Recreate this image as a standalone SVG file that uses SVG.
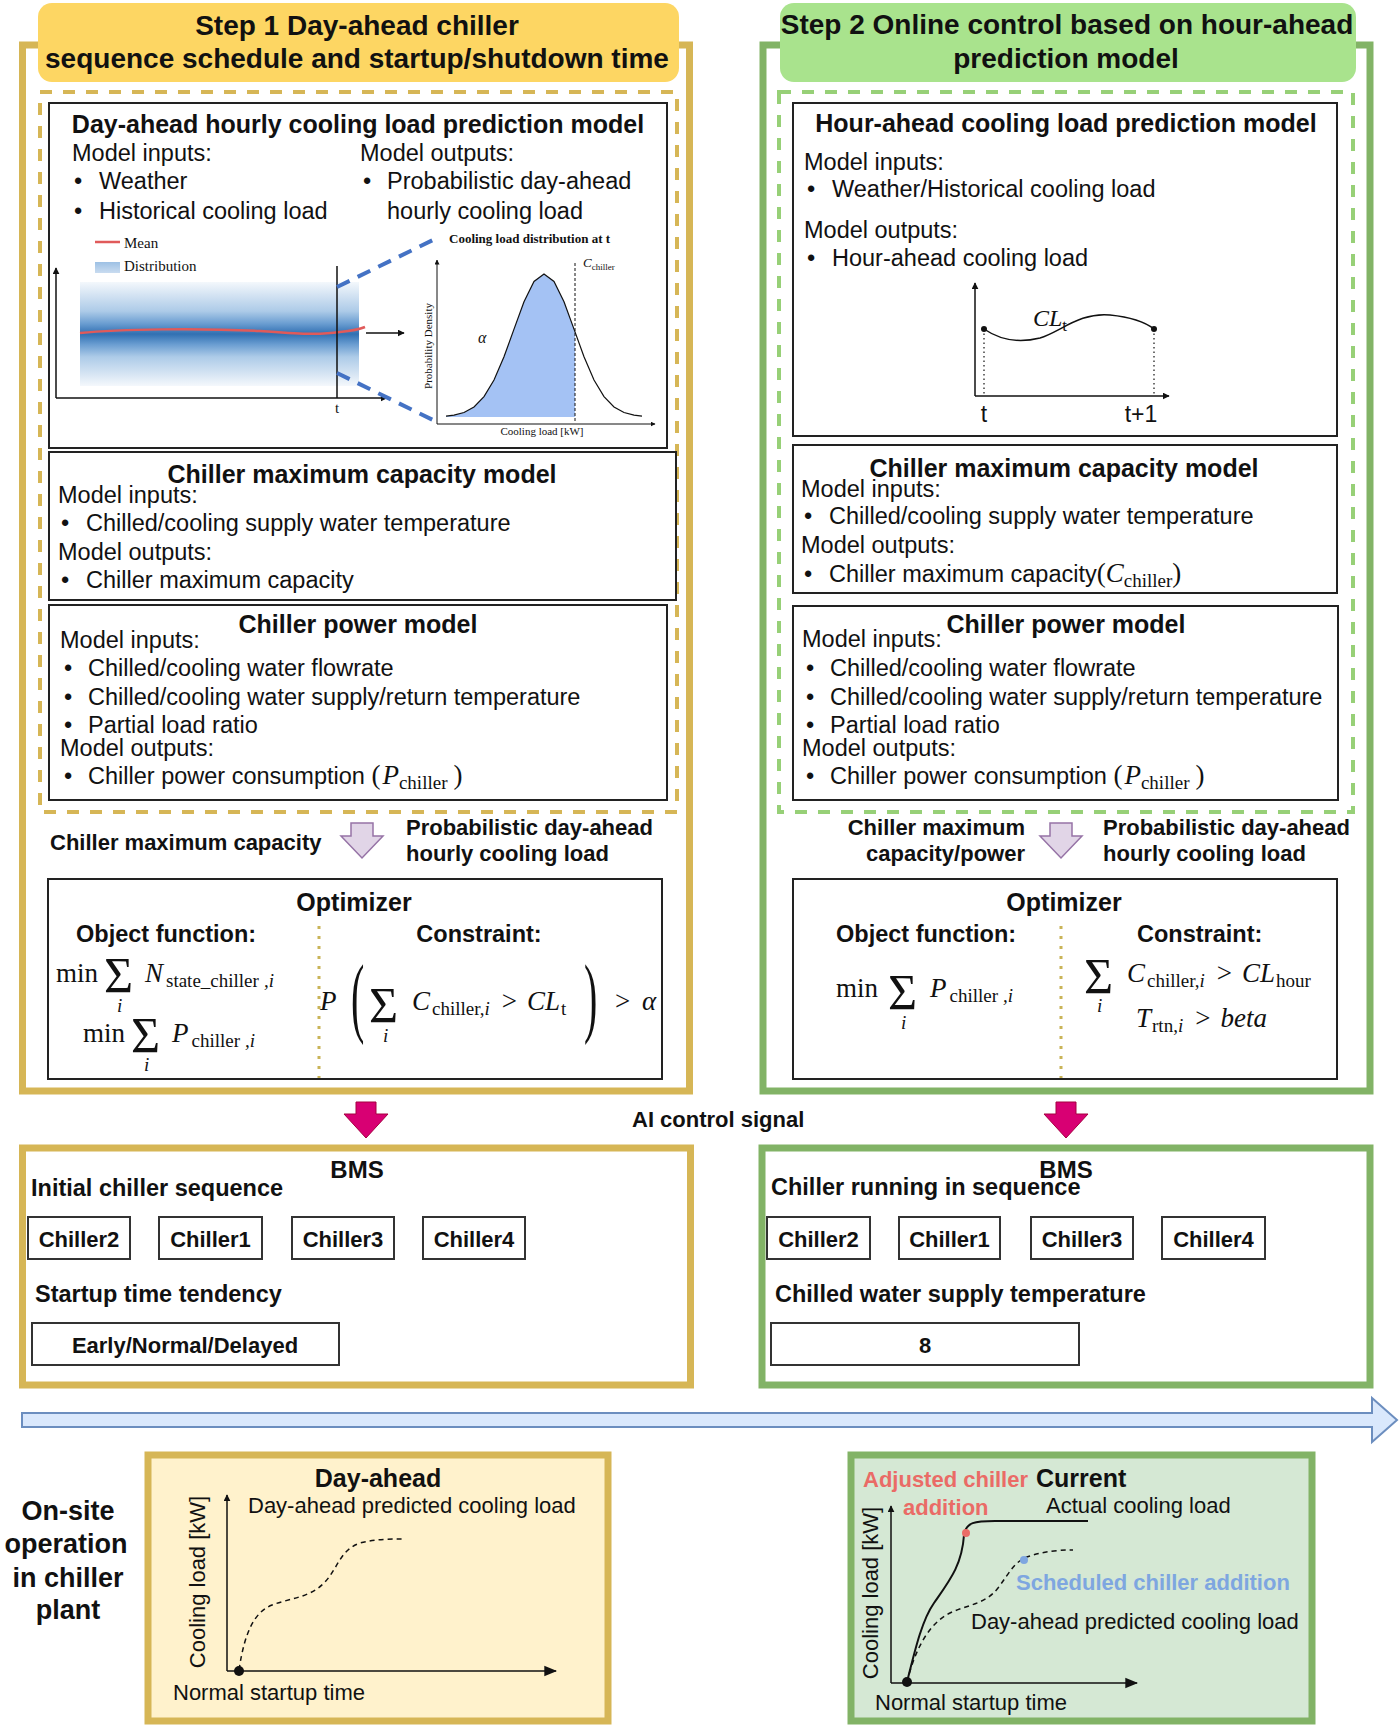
<svg xmlns="http://www.w3.org/2000/svg" width="1400" height="1726" viewBox="0 0 1400 1726">
<defs>
<style>
text{font-family:"Liberation Sans",Arial,sans-serif;fill:#111}
.hd{font-size:28px;font-weight:bold;text-anchor:middle}
.ti{font-size:25px;font-weight:bold;text-anchor:middle}
.tx{font-size:23.5px}
.lb{font-size:22px;font-weight:bold}
.lb2{font-size:23.5px;font-weight:bold}
.ax{font-size:22px}
.sf{font-family:"Liberation Serif","Times New Roman",serif}
.mi{font-family:"Liberation Serif","Times New Roman",serif;font-style:italic;font-size:27px}
.mr{font-family:"Liberation Serif","Times New Roman",serif;font-size:27px}
.sb{font-family:"Liberation Serif","Times New Roman",serif;font-size:19px}
.sbi{font-family:"Liberation Serif","Times New Roman",serif;font-size:19px;font-style:italic}
.sig{font-family:"Liberation Serif","Times New Roman",serif;font-size:50px}
.box{fill:#fff;stroke:#222;stroke-width:2}
.cb{fill:#fff;stroke:#333;stroke-width:2}
.gold{fill:none;stroke:#D6B656;stroke-width:7}
.green{fill:none;stroke:#82B366;stroke-width:7}
.dot{stroke:#C9B458;stroke-width:3;stroke-dasharray:3 7}
.purp{fill:#E1D5E7;stroke:#9673A6;stroke-width:1.5}
.mag{fill:#D80073;stroke:#A50040;stroke-width:1}
.red{fill:#EA6B66}
.blu{fill:#7EA6E0}
</style>
<linearGradient id="band" x1="0" y1="0" x2="0" y2="1">
<stop offset="0" stop-color="#F4F8FC"/>
<stop offset="0.12" stop-color="#D5E4F3"/>
<stop offset="0.28" stop-color="#ADCBE8"/>
<stop offset="0.4" stop-color="#6A9DD1"/>
<stop offset="0.5" stop-color="#3170B2"/>
<stop offset="0.6" stop-color="#6A9DD1"/>
<stop offset="0.72" stop-color="#ADCBE8"/>
<stop offset="0.88" stop-color="#D5E4F3"/>
<stop offset="1" stop-color="#F4F8FC"/>
</linearGradient>
<linearGradient id="leg" x1="0" y1="0" x2="0" y2="1">
<stop offset="0" stop-color="#9DC0E4"/>
<stop offset="1" stop-color="#C9DCF0"/>
</linearGradient>
<marker id="ah" viewBox="0 0 10 10" refX="9" refY="5" markerWidth="7" markerHeight="7" orient="auto" markerUnits="userSpaceOnUse">
<path d="M0,0 L10,5 L0,10 z" fill="#111"/>
</marker>
<marker id="ahs" viewBox="0 0 10 10" refX="9" refY="5" markerWidth="5" markerHeight="5" orient="auto" markerUnits="userSpaceOnUse">
<path d="M0,0 L10,5 L0,10 z" fill="#111"/>
</marker>
<marker id="ahb" viewBox="0 0 10 10" refX="9" refY="5" markerWidth="13" markerHeight="13" orient="auto" markerUnits="userSpaceOnUse">
<path d="M0,1 L10,5 L0,9 z" fill="#111"/>
</marker>
</defs>
<rect x="0" y="0" width="1400" height="1726" fill="#fff"/>

<!-- STEP 1 -->
<g id="step1-frame">
<rect class="gold" x="22.5" y="45" width="667" height="1046"/>
<rect x="38" y="3" width="641" height="79" rx="14" fill="#FDD663"/>
<text class="hd" x="357" y="35">Step 1 Day-ahead chiller</text>
<text class="hd" x="357" y="68">sequence schedule and startup/shutdown time</text>
<rect x="40" y="92" width="637" height="720" fill="none" stroke="#D6B656" stroke-width="4" stroke-dasharray="12 11"/>
</g>

<g id="dayahead-model">
<rect class="box" x="49" y="103" width="618" height="345"/>
<text class="ti" x="358" y="133">Day-ahead hourly cooling load prediction model</text>
<text class="tx" x="72" y="161">Model inputs:</text>
<text class="tx" x="74" y="189">•</text><text class="tx" x="99" y="189">Weather</text>
<text class="tx" x="74" y="219">•</text><text class="tx" x="99" y="219">Historical cooling load</text>
<text class="tx" x="360" y="161">Model outputs:</text>
<text class="tx" x="363" y="189">•</text><text class="tx" x="387" y="189">Probabilistic day-ahead</text>
<text class="tx" x="387" y="219">hourly cooling load</text>
<rect x="80" y="282" width="279" height="104" fill="url(#band)"/>
<path d="M80,333 C120,329 200,328 260,331 C300,334 320,335 340,332 C350,331 358,330 365,327" fill="none" stroke="#E05A5A" stroke-width="2.5"/>
<line x1="95" y1="242" x2="120" y2="242" stroke="#E05A5A" stroke-width="2.5"/>
<text class="sf" x="124" y="248" style="font-size:15px">Mean</text>
<rect x="95" y="262" width="25" height="11" fill="url(#leg)"/>
<text class="sf" x="124" y="271" style="font-size:15px">Distribution</text>
<line x1="56" y1="398" x2="56" y2="268" stroke="#111" stroke-width="1.5" marker-end="url(#ah)"/>
<line x1="56" y1="398" x2="387" y2="398" stroke="#111" stroke-width="1.5" marker-end="url(#ah)"/>
<line x1="337" y1="266" x2="337" y2="398" stroke="#111" stroke-width="1.5"/>
<text class="sf" x="337" y="413" style="font-size:15px" text-anchor="middle">t</text>
<line x1="366" y1="333" x2="404" y2="333" stroke="#111" stroke-width="1.5" marker-end="url(#ah)"/>
<line x1="337" y1="287" x2="437" y2="238" stroke="#4472C4" stroke-width="4" stroke-dasharray="14 9"/>
<line x1="337" y1="373" x2="437" y2="422" stroke="#4472C4" stroke-width="4" stroke-dasharray="14 9"/>
<polygon points="446,417 446,416.2 454,415.2 464,412.5 474,406.9 484,396.6 494,380 504,356.8 514,329.1 524,301.8 534,281.5 544,274 554,281.5 564,301.8 574,329.1 575,332 575,417" fill="#A4C2F4"/>
<polyline points="446,416.2 454,415.2 464,412.5 474,406.9 484,396.6 494,380 504,356.8 514,329.1 524,301.8 534,281.5 544,274 554,281.5 564,301.8 574,329.1 584,356.8 594,380 604,396.6 614,406.9 624,412.5 634,415.2 642,416.2" fill="none" stroke="#111" stroke-width="1.2"/>
<line x1="575" y1="263" x2="575" y2="423" stroke="#111" stroke-width="1" stroke-dasharray="3 2"/>
<line x1="437" y1="424" x2="437" y2="260" stroke="#111" stroke-width="1" marker-end="url(#ahs)"/>
<line x1="437" y1="424" x2="655" y2="424" stroke="#111" stroke-width="1" marker-end="url(#ahs)"/>
<text class="sf" x="449" y="243" style="font-size:13px;font-weight:bold">Cooling load distribution  at t</text>
<text class="sf" x="583" y="267" style="font-size:13px;font-style:italic">C<tspan style="font-size:9px;font-style:normal" dy="3">chiller</tspan></text>
<text class="sf" x="478" y="343" style="font-size:16px;font-style:italic">α</text>
<text class="sf" style="font-size:11px" text-anchor="middle" transform="translate(432,346) rotate(-90)">Probability Density</text>
<text class="sf" x="542" y="435" style="font-size:11px" text-anchor="middle">Cooling load [kW]</text>
</g>

<g id="maxcap-left">
<rect class="box" x="49" y="452" width="627" height="148"/>
<text class="ti" x="362" y="483">Chiller maximum capacity model</text>
<text class="tx" x="58" y="503">Model inputs:</text>
<text class="tx" x="61" y="531">•</text><text class="tx" x="86" y="531">Chilled/cooling supply water temperature</text>
<text class="tx" x="58" y="560">Model outputs:</text>
<text class="tx" x="61" y="588">•</text><text class="tx" x="86" y="588">Chiller maximum capacity</text>
</g>

<g id="power-left">
<rect class="box" x="49" y="605" width="618" height="195"/>
<text class="ti" x="358" y="633">Chiller power model</text>
<text class="tx" x="60" y="648">Model inputs:</text>
<text class="tx" x="64" y="676">•</text><text class="tx" x="88" y="676">Chilled/cooling water flowrate</text>
<text class="tx" x="64" y="705">•</text><text class="tx" x="88" y="705">Chilled/cooling water supply/return temperature</text>
<text class="tx" x="64" y="733">•</text><text class="tx" x="88" y="733">Partial load ratio</text>
<text class="tx" x="60" y="756">Model outputs:</text>
<text class="tx" x="64" y="784">•</text><text class="tx" x="88" y="784">Chiller power consumption <tspan class="mr">(</tspan><tspan class="mi" dx="2">P</tspan><tspan class="sb" dy="5">chiller</tspan><tspan class="mr" dy="-5" dx="6">)</tspan></text>
</g>

<g id="inputs-left">
<text class="lb" x="50" y="850">Chiller maximum capacity</text>
<polygon class="purp" points="351,823 373,823 373,836 383,836 362,858 341,836 351,836"/>
<text class="lb" x="406" y="835">Probabilistic day-ahead</text>
<text class="lb" x="406" y="861">hourly cooling load</text>
</g>

<g id="optimizer-left">
<rect class="box" x="48" y="879" width="614" height="200"/>
<text class="ti" x="354" y="911">Optimizer</text>
<text class="lb2" x="76" y="942">Object function:</text>
<text class="lb2" x="479" y="942" text-anchor="middle">Constraint:</text>
<line class="dot" x1="319" y1="926" x2="319" y2="1078"/>
<text class="mr" x="56" y="982">min</text>
<text class="sig" x="104" y="992">Σ</text>
<text class="sbi" x="117" y="1012">i</text>
<text x="145" y="982"><tspan class="mi">N</tspan><tspan class="sb" dx="3" dy="5">state_chiller</tspan><tspan class="sbi" dx="5">,i</tspan></text>
<text class="mr" x="83" y="1042">min</text>
<text class="sig" x="131" y="1052">Σ</text>
<text class="sbi" x="144" y="1071">i</text>
<text x="172" y="1042"><tspan class="mi">P</tspan><tspan class="sb" dx="3" dy="5">chiller</tspan><tspan class="sbi" dx="5">,i</tspan></text>
<text class="mi" x="320" y="1010">P</text>
<text class="mr" transform="translate(351,1026) scale(1,2.2)" style="font-size:40px">(</text>
<text class="sig" x="369" y="1022">Σ</text>
<text class="sbi" x="383" y="1042">i</text>
<text x="412" y="1010"><tspan class="mi">C</tspan><tspan class="sb" dx="2" dy="5">chiller,</tspan><tspan class="sbi">i</tspan><tspan class="mr" dx="12" dy="-5">&gt;</tspan><tspan class="mi" dx="10">CL</tspan><tspan class="sb" dx="1" dy="5">t</tspan></text>
<text class="mr" transform="translate(584,1026) scale(1,2.2)" style="font-size:40px">)</text>
<text class="mr" x="615" y="1010">&gt;</text>
<text class="mi" x="642" y="1010">α</text>
</g>

<!-- STEP 2 -->
<g id="step2-frame">
<rect class="green" x="763" y="45" width="607" height="1046"/>
<rect x="780" y="3" width="576" height="79" rx="14" fill="#A9E38D"/>
<text class="hd" x="1067" y="34">Step 2 Online control based on hour-ahead</text>
<text class="hd" x="1066" y="68">prediction model</text>
<rect x="779" y="92" width="574" height="720" fill="none" stroke="#97D077" stroke-width="4" stroke-dasharray="12 11"/>
</g>

<g id="hourahead-model">
<rect class="box" x="793" y="103" width="544" height="333"/>
<text class="ti" x="1066" y="132">Hour-ahead cooling load prediction model</text>
<text class="tx" x="804" y="170">Model inputs:</text>
<text class="tx" x="807" y="197">•</text><text class="tx" x="832" y="197">Weather/Historical cooling load</text>
<text class="tx" x="804" y="238">Model outputs:</text>
<text class="tx" x="807" y="266">•</text><text class="tx" x="832" y="266">Hour-ahead cooling load</text>
<line x1="975" y1="396" x2="975" y2="283" stroke="#111" stroke-width="1.5" marker-end="url(#ah)"/>
<line x1="975" y1="396" x2="1169" y2="396" stroke="#111" stroke-width="1.5" marker-end="url(#ah)"/>
<line x1="984" y1="329" x2="984" y2="396" stroke="#111" stroke-width="1.2" stroke-dasharray="1.5 3"/>
<line x1="1154" y1="329" x2="1154" y2="396" stroke="#111" stroke-width="1.2" stroke-dasharray="1.5 3"/>
<path d="M984,329 C1000,340 1020,343 1040,338 C1060,332 1080,312 1110,315 C1130,317 1145,322 1154,329" fill="none" stroke="#111" stroke-width="1.5"/>
<circle cx="984" cy="329" r="3" fill="#111"/>
<circle cx="1154" cy="329" r="3" fill="#111"/>
<text x="1033" y="326"><tspan class="mi" style="font-size:24px">CL</tspan><tspan class="sb" style="font-size:17px" dy="5">t</tspan></text>
<text class="ax" x="984" y="422" text-anchor="middle" style="font-size:23px">t</text>
<text class="ax" x="1141" y="422" text-anchor="middle" style="font-size:23px">t+1</text>
</g>

<g id="maxcap-right">
<rect class="box" x="793" y="445" width="544" height="148"/>
<text class="ti" x="1064" y="477">Chiller maximum capacity model</text>
<text class="tx" x="801" y="497">Model inputs:</text>
<text class="tx" x="804" y="524">•</text><text class="tx" x="829" y="524">Chilled/cooling supply water temperature</text>
<text class="tx" x="801" y="553">Model outputs:</text>
<text class="tx" x="804" y="582">•</text><text class="tx" x="829" y="582">Chiller maximum capacity<tspan class="mr">(</tspan><tspan class="mi">C</tspan><tspan class="sb" dy="5">chiller</tspan><tspan class="mr" dy="-5">)</tspan></text>
</g>

<g id="power-right">
<rect class="box" x="793" y="606" width="545" height="194"/>
<text class="ti" x="1066" y="633">Chiller power model</text>
<text class="tx" x="802" y="647">Model inputs:</text>
<text class="tx" x="806" y="676">•</text><text class="tx" x="830" y="676">Chilled/cooling water flowrate</text>
<text class="tx" x="806" y="705">•</text><text class="tx" x="830" y="705">Chilled/cooling water supply/return temperature</text>
<text class="tx" x="806" y="733">•</text><text class="tx" x="830" y="733">Partial load ratio</text>
<text class="tx" x="802" y="756">Model outputs:</text>
<text class="tx" x="806" y="784">•</text><text class="tx" x="830" y="784">Chiller power consumption <tspan class="mr">(</tspan><tspan class="mi" dx="2">P</tspan><tspan class="sb" dy="5">chiller</tspan><tspan class="mr" dy="-5" dx="6">)</tspan></text>
</g>

<g id="inputs-right">
<text class="lb" x="1025" y="835" text-anchor="end">Chiller maximum</text>
<text class="lb" x="1025" y="861" text-anchor="end">capacity/power</text>
<polygon class="purp" points="1050,823 1072,823 1072,836 1082,836 1061,858 1040,836 1050,836"/>
<text class="lb" x="1103" y="835">Probabilistic day-ahead</text>
<text class="lb" x="1103" y="861">hourly cooling load</text>
</g>

<g id="optimizer-right">
<rect class="box" x="793" y="879" width="544" height="200"/>
<text class="ti" x="1064" y="911">Optimizer</text>
<text class="lb2" x="836" y="942">Object function:</text>
<text class="lb2" x="1137" y="942">Constraint:</text>
<line class="dot" x1="1061" y1="926" x2="1061" y2="1078"/>
<text class="mr" x="836" y="997">min</text>
<text class="sig" x="888" y="1009">Σ</text>
<text class="sbi" x="901" y="1029">i</text>
<text x="930" y="997"><tspan class="mi">P</tspan><tspan class="sb" dx="3" dy="5">chiller</tspan><tspan class="sbi" dx="5">,i</tspan></text>
<text class="sig" x="1084" y="993">Σ</text>
<text class="sbi" x="1097" y="1012">i</text>
<text x="1127" y="982"><tspan class="mi">C</tspan><tspan class="sb" dx="2" dy="5">chiller,</tspan><tspan class="sbi">i</tspan><tspan class="mr" dx="12" dy="-5">&gt;</tspan><tspan class="mi" dx="10">CL</tspan><tspan class="sb" dx="1" dy="5">hour</tspan></text>
<text x="1136" y="1027"><tspan class="mi">T</tspan><tspan class="sb" dx="1" dy="5">rtn,</tspan><tspan class="sbi">i</tspan><tspan class="mr" dx="12" dy="-5">&gt;</tspan><tspan class="mi" dx="10">beta</tspan></text>
</g>

<g id="connectors">
<polygon class="mag" points="356,1102 376,1102 376,1114 388,1114 366,1138 344,1114 356,1114"/>
<polygon class="mag" points="1056,1102 1076,1102 1076,1114 1088,1114 1066,1138 1044,1114 1056,1114"/>
<text class="lb" x="632" y="1127">AI control signal</text>
<polygon points="22,1413 1372,1413 1372,1398 1397,1420 1372,1442 1372,1427 22,1427" fill="#DAE8FC" stroke="#6C8EBF" stroke-width="2"/>
</g>

<g id="bms-left">
<rect x="22.5" y="1148" width="668" height="237" fill="#fff" stroke="#D6B656" stroke-width="7"/>
<text class="ti" x="357" y="1178" style="font-size:24px">BMS</text>
<text class="lb2" x="31" y="1196">Initial chiller sequence</text>
<rect class="cb" x="28" y="1217" width="102" height="42"/><text class="lb" x="79" y="1247" text-anchor="middle">Chiller2</text>
<rect class="cb" x="159" y="1217" width="103" height="42"/><text class="lb" x="210.5" y="1247" text-anchor="middle">Chiller1</text>
<rect class="cb" x="292" y="1217" width="102" height="42"/><text class="lb" x="343" y="1247" text-anchor="middle">Chiller3</text>
<rect class="cb" x="423" y="1217" width="102" height="42"/><text class="lb" x="474" y="1247" text-anchor="middle">Chiller4</text>
<text class="lb2" x="35" y="1302">Startup time tendency</text>
<rect class="cb" x="32" y="1323" width="307" height="42"/><text class="lb" x="185" y="1353" text-anchor="middle">Early/Normal/Delayed</text>
</g>

<g id="bms-right">
<rect x="762" y="1148" width="608" height="237" fill="#fff" stroke="#82B366" stroke-width="7"/>
<text class="ti" x="1066" y="1178" style="font-size:24px">BMS</text>
<text class="lb2" x="771" y="1195">Chiller running in sequence</text>
<rect class="cb" x="767" y="1217" width="103" height="42"/><text class="lb" x="818.5" y="1247" text-anchor="middle">Chiller2</text>
<rect class="cb" x="899" y="1217" width="101" height="42"/><text class="lb" x="949.5" y="1247" text-anchor="middle">Chiller1</text>
<rect class="cb" x="1031" y="1217" width="102" height="42"/><text class="lb" x="1082" y="1247" text-anchor="middle">Chiller3</text>
<rect class="cb" x="1162" y="1217" width="103" height="42"/><text class="lb" x="1213.5" y="1247" text-anchor="middle">Chiller4</text>
<text class="lb2" x="775" y="1302">Chilled water supply temperature</text>
<rect class="cb" x="771" y="1323" width="308" height="42"/><text class="lb" x="925" y="1353" text-anchor="middle">8</text>
</g>

<g id="onsite-label">
<text style="font-size:27px;font-weight:bold" text-anchor="middle" x="68" y="1520">On-site</text>
<text style="font-size:27px;font-weight:bold" text-anchor="middle" x="66" y="1553">operation</text>
<text style="font-size:27px;font-weight:bold" text-anchor="middle" x="68" y="1587">in chiller</text>
<text style="font-size:27px;font-weight:bold" text-anchor="middle" x="68" y="1619">plant</text>
</g>

<g id="dayahead-panel">
<rect x="148" y="1455" width="460" height="266" fill="#FFF2CC" stroke="#D6B656" stroke-width="7"/>
<text class="ti" x="378" y="1487">Day-ahead</text>
<text class="ax" x="248" y="1513">Day-ahead predicted cooling load</text>
<line x1="227" y1="1671" x2="227" y2="1495" stroke="#111" stroke-width="1.5" marker-end="url(#ah)"/>
<line x1="227" y1="1671" x2="556" y2="1671" stroke="#111" stroke-width="1.5" marker-end="url(#ahb)"/>
<text class="ax" text-anchor="middle" transform="translate(205,1582) rotate(-90)">Cooling load [kW]</text>
<path d="M239,1670 C245,1630 255,1612 272,1605 C290,1598 310,1598 325,1582 C338,1568 340,1550 360,1543 C375,1539 390,1539 404,1539" fill="none" stroke="#111" stroke-width="1.5" stroke-dasharray="5 4"/>
<circle cx="239" cy="1671" r="5" fill="#111"/>
<text class="ax" x="173" y="1700">Normal startup time</text>
</g>

<g id="current-panel">
<rect x="851" y="1455" width="461" height="266" fill="#D5E8D4" stroke="#82B366" stroke-width="7"/>
<text class="lb red" x="863" y="1487">Adjusted chiller</text>
<text class="lb red" x="903" y="1515">addition</text>
<text x="1036" y="1487" style="font-size:25px;font-weight:bold">Current</text>
<text class="ax" x="1046" y="1513">Actual cooling load</text>
<line x1="891" y1="1683" x2="891" y2="1506" stroke="#111" stroke-width="1.5" marker-end="url(#ah)"/>
<line x1="891" y1="1683" x2="1137" y2="1683" stroke="#111" stroke-width="1.5" marker-end="url(#ahb)"/>
<text class="ax" text-anchor="middle" transform="translate(878,1593) rotate(-90)">Cooling load [kW]</text>
<path d="M907,1682 C915,1650 922,1620 934,1603 C950,1580 962,1565 964,1535 C966,1522 975,1521 995,1521 L1088,1521" fill="none" stroke="#111" stroke-width="2"/>
<path d="M907,1682 C915,1650 928,1625 948,1614 C965,1605 985,1605 998,1588 C1010,1572 1015,1560 1030,1556 C1045,1551 1060,1550 1073,1550" fill="none" stroke="#111" stroke-width="1.5" stroke-dasharray="5 4"/>
<circle cx="966" cy="1533" r="4" fill="#EA6B66"/>
<circle cx="1024" cy="1560" r="4" fill="#7EA6E0"/>
<circle cx="907" cy="1682" r="5" fill="#111"/>
<text class="lb blu" x="1016" y="1590">Scheduled chiller addition</text>
<text class="ax" x="971" y="1629">Day-ahead predicted cooling load</text>
<text class="ax" x="875" y="1710">Normal startup time</text>
</g>
</svg>
